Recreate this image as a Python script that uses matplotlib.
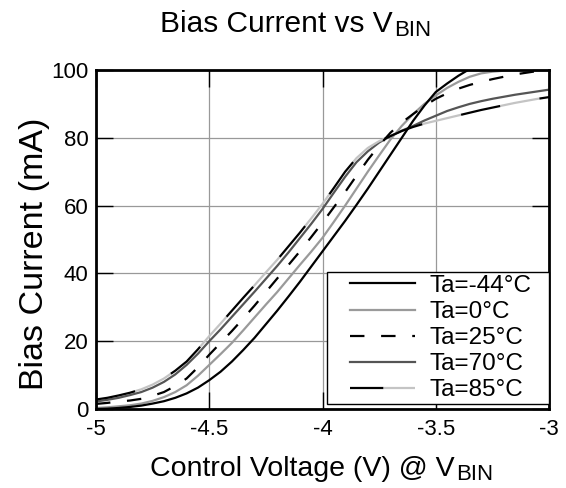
''' bias current vs control voltage for several ambient temperatures '''
import numpy as np
import matplotlib
matplotlib.use('Agg')
from matplotlib import pyplot as plt
from matplotlib.lines import Line2D
from matplotlib.legend_handler import HandlerLine2D

plt.rcParams['font.family'] = ['Liberation Sans', 'DejaVu Sans']
plt.rcParams['axes.unicode_minus'] = False

# control voltage (V) at V_BIN
volts = [-5.00, -4.95, -4.90, -4.85, -4.80, -4.75, -4.70, -4.65, -4.60, -4.55,
         -4.50, -4.45, -4.40, -4.35, -4.30, -4.25, -4.20, -4.15, -4.10, -4.05,
         -4.00, -3.95, -3.90, -3.85, -3.80, -3.75, -3.70, -3.65, -3.60, -3.55,
         -3.50, -3.45, -3.40, -3.35, -3.30, -3.25, -3.20, -3.15, -3.10, -3.05,
         -3.00]

# bias current (mA) per ambient temperature
ta_m44 = [0.0, 0.1, 0.3, 0.6, 1.0, 1.6, 2.3, 3.3, 4.6, 6.3,
          8.5, 11.0, 14.0, 17.4, 21.0, 25.0, 29.0, 33.2, 37.5, 42.0,
          46.5, 51.0, 55.5, 60.2, 65.0, 70.0, 75.0, 80.0, 85.0, 89.5,
          93.5, 96.0, 98.3, 100.3, 102.0, np.nan, np.nan, np.nan, np.nan, np.nan,
          np.nan]
ta_0 = [0.3, 0.5, 0.8, 1.1, 1.6, 2.4, 3.5, 5.0, 7.0, 9.8,
        13.0, 16.2, 19.5, 23.2, 27.0, 30.8, 34.5, 38.5, 42.5, 46.4,
        50.5, 55.2, 60.0, 65.0, 70.0, 74.8, 79.5, 83.5, 87.0, 90.0,
        92.5, 94.7, 96.5, 98.0, 99.0, 99.5, 99.8, 99.9, 100.0, 100.0,
        100.0]
ta_25 = [1.5, 1.8, 2.2, 2.5, 3.0, 3.9, 5.0, 6.8, 9.0, 12.3,
         16.0, 19.5, 23.0, 26.7, 30.5, 34.5, 38.5, 42.5, 46.5, 50.7,
         55.0, 59.5, 64.0, 68.8, 73.5, 77.7, 81.5, 84.5, 87.0, 89.4,
         91.5, 93.1, 94.5, 95.6, 96.5, 97.3, 98.0, 98.7, 99.2, 99.7,
         100.0]
ta_70 = [2.2, 2.7, 3.3, 4.1, 5.0, 6.3, 8.0, 10.2, 13.0, 16.3,
         20.0, 23.5, 27.2, 30.9, 34.6, 38.4, 42.2, 46.2, 50.4, 54.6,
         59.0, 63.8, 68.5, 72.8, 76.0, 78.6, 80.5, 82.1, 83.5, 85.1,
         86.5, 87.9, 89.0, 90.0, 90.8, 91.5, 92.1, 92.7, 93.2, 93.7,
         94.2]
ta_85 = [2.8, 3.3, 4.0, 4.8, 5.8, 7.2, 9.0, 11.3, 14.0, 17.6,
         21.5, 25.2, 29.0, 32.8, 36.5, 40.3, 44.0, 48.0, 52.0, 56.2,
         60.5, 65.2, 70.0, 74.0, 77.0, 79.0, 80.5, 82.0, 83.2, 84.2,
         85.0, 85.8, 86.6, 87.4, 88.2, 88.9, 89.6, 90.3, 90.9, 91.5,
         92.0]

labels = ['Ta=-44°C', 'Ta=0°C', 'Ta=25°C', 'Ta=70°C', 'Ta=85°C']
xticks = [-5, -4.5, -4, -3.5, -3]
xticklabels = ['-5', '-4.5', '-4', '-3.5', '-3']
yticks = [0, 20, 40, 60, 80, 100]

W, H = 566, 488


def px(x, y):
  # pixel position -> figure fraction
  return x / W, 1 - y / H


def plot():
  fig = plt.figure(figsize=(W / 100, H / 100), dpi=100)
  ax = fig.add_axes([96 / W, 1 - 409 / H, 453 / W, 339 / H])

  lw = 1.6
  ax.plot(volts, ta_70, color='#555555', lw=lw)
  ax.plot(volts, ta_0, color='#9a9a9a', lw=lw)
  ax.plot(volts, ta_85, color='black', lw=lw, linestyle=(0, (18, 18)),
          gapcolor='#c4c4c4')
  ax.plot(volts, ta_25, color='black', lw=lw, linestyle=(0, (6.5, 7.5)))
  ax.plot(volts, ta_m44, color='black', lw=lw)

  ax.set_xlim(-5, -3)
  ax.set_ylim(0, 100)
  ax.set_xticks(xticks)
  ax.set_xticklabels(xticklabels)
  ax.set_yticks(yticks)
  ax.grid(color='#999999', lw=0.9)
  ax.set_axisbelow(True)
  ax.tick_params(direction='in', length=12.5, width=1.0, color='black',
                 top=True, right=True, labelsize=16)
  ax.tick_params(axis='x', pad=7)
  ax.tick_params(axis='y', pad=5.5)
  for s in ax.spines.values():
    s.set_linewidth(2)

  # legend proxies
  handles = [
    Line2D([], [], color='black', lw=lw),
    Line2D([], [], color='#9a9a9a', lw=lw),
    Line2D([], [], color='black', lw=lw, linestyle=(0, (6.5, 7.5))),
    Line2D([], [], color='#555555', lw=lw),
    Line2D([], [], color='black', lw=lw, linestyle=(0, (15, 15)),
           gapcolor='#c4c4c4'),
  ]
  leg = ax.legend(handles, labels, loc='lower left',
                  bbox_to_anchor=(0.509, 0.015, 0.491, 0.4), mode='expand',
                  borderaxespad=0, fontsize=17.5, fancybox=False,
                  edgecolor='black', framealpha=1, borderpad=0.1,
                  labelspacing=0.17, handlelength=3.52, handletextpad=0.62,
                  handler_map={Line2D: HandlerLine2D(xpad=0.85)})
  leg.get_frame().set_linewidth(1.0)

  # title with subscript
  t = fig.text(*px(160, 32), 'Bias Current vs V', fontsize=21.5,
               ha='left', va='baseline')
  ax.annotate('BIN', xy=(1, 0), xycoords=t, xytext=(1, -1.9),
              textcoords='offset points', fontsize=16, ha='left', va='bottom',
              annotation_clip=False)

  # x label with subscript
  xl = fig.text(*px(150, 476), 'Control Voltage (V) @ V', fontsize=20.5,
                ha='left', va='baseline')
  ax.annotate('BIN', xy=(1, 0), xycoords=xl, xytext=(1, -1.9),
              textcoords='offset points', fontsize=16, ha='left', va='bottom',
              annotation_clip=False)

  fig.text(*px(43, 254), 'Bias Current (mA)', fontsize=24.5, rotation=90,
           rotation_mode='anchor', ha='center', va='baseline')

  fig.savefig('out.png', dpi=100)


if __name__ == '__main__':

  plot()
